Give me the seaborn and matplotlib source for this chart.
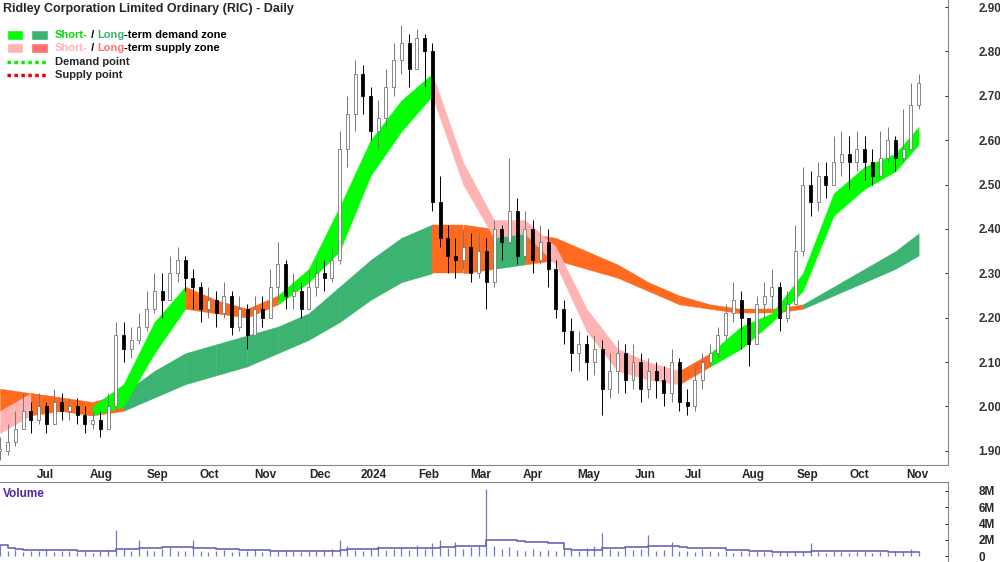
import matplotlib
matplotlib.use("Agg")
import matplotlib.pyplot as plt
from matplotlib.patches import Rectangle
import seaborn as sns
import pandas as pd
import numpy as np

# candles, one every ~3 trading days
closes = [1.90, 1.92, 1.95, 1.99, 1.97, 2.00, 1.96, 2.01, 1.99, 2.00,
          1.98, 1.96, 1.97, 1.95, 2.00, 2.16, 2.13, 2.15, 2.18, 2.22,
          2.26, 2.24, 2.30, 2.33, 2.29, 2.27, 2.22, 2.24, 2.21, 2.25,
          2.18, 2.22, 2.16, 2.22, 2.20, 2.27, 2.32, 2.25, 2.26, 2.22,
          2.27, 2.30, 2.29, 2.33, 2.58, 2.66, 2.75, 2.70, 2.62, 2.65,
          2.72, 2.78, 2.82, 2.76, 2.83, 2.80, 2.46, 2.38, 2.34, 2.33,
          2.36, 2.30, 2.35, 2.28, 2.40, 2.37, 2.44, 2.34, 2.40, 2.33,
          2.37, 2.31, 2.22, 2.17, 2.12, 2.14, 2.10, 2.13, 2.04, 2.08,
          2.12, 2.06, 2.10, 2.04, 2.08, 2.06, 2.03, 2.10, 2.01, 2.00,
          2.06, 2.10, 2.12, 2.16, 2.21, 2.24, 2.20, 2.14, 2.23, 2.25,
          2.27, 2.20, 2.23, 2.35, 2.50, 2.46, 2.52, 2.50, 2.55, 2.57,
          2.55, 2.58, 2.55, 2.52, 2.56, 2.60, 2.56, 2.58, 2.68, 2.73]
highs = [1.93, 1.96, 1.99, 2.03, 2.01, 2.03, 2.01, 2.04, 2.03, 2.02,
         2.02, 2.00, 1.99, 1.99, 2.03, 2.19, 2.19, 2.18, 2.21, 2.26,
         2.30, 2.30, 2.34, 2.36, 2.34, 2.31, 2.28, 2.27, 2.26, 2.28,
         2.26, 2.25, 2.23, 2.25, 2.25, 2.31, 2.37, 2.33, 2.30, 2.28,
         2.31, 2.33, 2.33, 2.36, 2.62, 2.70, 2.78, 2.77, 2.72, 2.69,
         2.76, 2.82, 2.86, 2.84, 2.85, 2.84, 2.82, 2.52, 2.41, 2.38,
         2.40, 2.39, 2.39, 2.38, 2.42, 2.41, 2.56, 2.47, 2.44, 2.42,
         2.41, 2.40, 2.33, 2.24, 2.20, 2.17, 2.16, 2.16, 2.15, 2.12,
         2.15, 2.14, 2.14, 2.12, 2.11, 2.10, 2.09, 2.13, 2.11, 2.04,
         2.09, 2.12, 2.14, 2.18, 2.23, 2.28, 2.26, 2.19, 2.25, 2.28,
         2.31, 2.28, 2.26, 2.41, 2.54, 2.53, 2.55, 2.55, 2.61, 2.62,
         2.61, 2.62, 2.61, 2.58, 2.62, 2.63, 2.61, 2.67, 2.73, 2.75]
lows = [1.88, 1.89, 1.91, 1.95, 1.94, 1.96, 1.94, 1.96, 1.97, 1.97,
        1.96, 1.94, 1.95, 1.93, 1.96, 1.99, 2.10, 2.11, 2.14, 2.17,
        2.21, 2.20, 2.24, 2.28, 2.26, 2.22, 2.19, 2.20, 2.18, 2.20,
        2.16, 2.17, 2.13, 2.16, 2.18, 2.21, 2.24, 2.22, 2.22, 2.20,
        2.23, 2.25, 2.26, 2.28, 2.32, 2.54, 2.62, 2.66, 2.60, 2.58,
        2.63, 2.70, 2.75, 2.72, 2.76, 2.72, 2.44, 2.36, 2.30, 2.29,
        2.31, 2.28, 2.29, 2.22, 2.27, 2.33, 2.38, 2.32, 2.33, 2.30,
        2.32, 2.27, 2.20, 2.14, 2.08, 2.08, 2.06, 2.07, 1.98, 2.02,
        2.03, 2.03, 2.04, 2.01, 2.02, 2.02, 2.00, 2.01, 1.99, 1.98,
        1.99, 2.04, 2.09, 2.11, 2.15, 2.19, 2.13, 2.09, 2.17, 2.20,
        2.22, 2.17, 2.19, 2.23, 2.34, 2.43, 2.44, 2.47, 2.50, 2.52,
        2.49, 2.53, 2.51, 2.50, 2.53, 2.55, 2.53, 2.55, 2.65, 2.67]
volumes = [1.4, 0.6, 0.8, 0.5, 0.7, 0.6, 0.9, 0.5, 0.6, 0.7,
           0.5, 0.6, 0.4, 0.7, 0.8, 3.2, 0.9, 0.7, 2.0, 0.8,
           0.6, 0.9, 1.1, 0.7, 0.6, 2.0, 0.7, 0.5, 0.6, 0.8,
           0.5, 0.7, 0.6, 0.9, 0.5, 0.6, 0.7, 0.8, 0.6, 0.5,
           0.7, 0.6, 0.8, 0.9, 2.0, 1.2, 0.8, 0.7, 0.9, 1.3,
           0.8, 0.9, 1.1, 0.8, 1.4, 0.9, 1.6, 2.0, 1.0, 1.8,
           0.9, 1.1, 1.3, 8.3, 1.2, 0.9, 1.1, 0.8, 0.7, 0.9,
           0.6, 0.8, 0.7, 0.9, 0.8, 0.6, 1.0, 1.2, 2.9, 0.9,
           0.7, 1.1, 0.8, 0.9, 2.6, 0.7, 0.8, 1.8, 0.6, 0.7,
           0.5, 0.9, 0.6, 0.5, 0.7, 0.4, 0.6, 0.5, 0.7, 0.5,
           0.4, 0.6, 0.5, 0.7, 0.6, 1.6, 0.5, 0.4, 0.6, 0.5,
           0.4, 0.5, 0.6, 0.4, 0.5, 0.4, 0.6, 0.5, 0.9, 0.7]

# zone bands, one anchor every 4 candles (last at the final candle)
short_upper = [1.99, 2.03, 2.02, 2.00, 2.05, 2.19, 2.27, 2.24, 2.22, 2.25,
               2.31, 2.45, 2.60, 2.69, 2.75, 2.55, 2.42, 2.42, 2.36, 2.22,
               2.13, 2.10, 2.08, 2.12, 2.18, 2.21, 2.30, 2.48, 2.54, 2.57, 2.63]
short_lower = [1.94, 1.98, 1.99, 1.98, 2.00, 2.12, 2.22, 2.21, 2.20, 2.23,
               2.28, 2.35, 2.52, 2.62, 2.70, 2.50, 2.38, 2.39, 2.32, 2.17,
               2.08, 2.06, 2.05, 2.09, 2.13, 2.19, 2.26, 2.43, 2.49, 2.53, 2.59]
long_upper = [2.04, 2.03, 2.02, 2.01, 2.03, 2.08, 2.12, 2.14, 2.16, 2.18,
              2.21, 2.27, 2.33, 2.38, 2.41, 2.41, 2.40, 2.39, 2.38, 2.35,
              2.32, 2.28, 2.25, 2.23, 2.22, 2.22, 2.23, 2.27, 2.31, 2.35, 2.39]
long_lower = [1.99, 1.99, 1.99, 1.98, 1.99, 2.02, 2.05, 2.07, 2.09, 2.12,
              2.15, 2.19, 2.24, 2.28, 2.30, 2.30, 2.31, 2.32, 2.33, 2.31,
              2.29, 2.26, 2.23, 2.22, 2.21, 2.21, 2.22, 2.25, 2.28, 2.31, 2.34]
# state per segment: D = short demand, S = short supply, O = orange supply, L = long demand
short_state = "SOODDDOOODDDDDSSSSSSSSODDDDDDD"
long_state = "OOOOLLLLLLLLLLOOLOOOOOOOOOLLLL"

month_labels = ["Jul", "Aug", "Sep", "Oct", "Nov", "Dec", "2024", "Feb", "Mar",
                "Apr", "May", "Jun", "Jul", "Aug", "Sep", "Oct", "Nov"]

colors = {"D": "#00ff00", "L": "#3cb371", "S": "#ffb3b3", "O": "#ff6a1f"}

sns.set_style("white")
plt.rcParams["font.family"] = ["Liberation Sans", "DejaVu Sans"]

fig = plt.figure(figsize=(10, 5.62), dpi=100)
ax = fig.add_axes([0, 1 - 465 / 562, 0.948, 465 / 562])
axv = fig.add_axes([0, 0, 0.948, 80 / 562])

step = 3.1
xs = np.arange(len(closes)) * step
opens = [closes[0]] + closes[:-1]
band_idx = list(range(0, len(closes) - 3, 4)) + [len(closes) - 1]
bx = xs[band_idx]

for up, lo, state in [(long_upper, long_lower, long_state),
                      (short_upper, short_lower, short_state)]:
    for k, st in enumerate(state):
        ax.fill_between(bx[k:k + 2], lo[k:k + 2], up[k:k + 2],
                        color=colors[st], lw=0.3, ec=colors[st], zorder=1)

for x, o, h, l, c in zip(xs, opens, highs, lows, closes):
    h = max(h, o, c)
    l = min(l, o, c)
    up_bar = c >= o
    edge = "#777777" if up_bar else "black"
    ax.vlines(x, l, h, color=edge, lw=0.7, zorder=2)
    bottom = min(o, c)
    height = max(abs(c - o), 0.003)
    ax.add_patch(Rectangle((x - 0.6, bottom), 1.2, height,
                           fc="white" if up_bar else "black",
                           ec=edge, lw=0.6, zorder=3))

ax.set_ylim(1.868, 2.916)
ax.set_xlim(0, 380.7)
ax.yaxis.tick_right()
ax.set_yticks(np.arange(1.9, 2.91, 0.1))
ax.set_yticklabels([f"{v:.2f}" for v in np.arange(1.9, 2.91, 0.1)],
                   fontsize=8.5, fontweight="bold")
ax.tick_params(axis="y", pad=22, length=2, direction="in", colors="#333333")

days = pd.bdate_range("2023-06-12", "2024-11-30")
firsts = pd.Series(range(len(days)), index=days).groupby(
    [days.year, days.month]).first().values[1:len(month_labels) + 1]
ax.set_xticks(firsts)
ax.set_xticklabels(month_labels, fontsize=8.5, fontweight="bold", ha="left")
ax.tick_params(axis="x", length=4, direction="in", pad=3)
for s in ["top", "left"]:
    ax.spines[s].set_visible(False)
ax.spines["right"].set_color("#888888")
ax.spines["bottom"].set_color("#888888")

# title and legend
ax.text(0.003, 0.993, "Ridley Corporation Limited Ordinary (RIC) - Daily",
        transform=ax.transAxes, fontsize=9, fontweight="bold", va="top")
fx = lambda px: px / 948
fy = lambda py: 1 - py / 465
for row, (c1, c2) in enumerate([("#00ff00", "#3cb371"), ("#ffb3b3", "#ff7070")]):
    y0 = fy(40 + row * 13)
    ax.add_patch(Rectangle((fx(7), y0), fx(16), 10 / 465, fc=c1,
                           transform=ax.transAxes, zorder=5))
    ax.add_patch(Rectangle((fx(31), y0), fx(17), 10 / 465, fc=c2,
                           transform=ax.transAxes, zorder=5))


def chain(parts, y):
    prev = None
    for s, col in parts:
        kw = dict(fontsize=8, fontweight="bold", color=col, va="center", ha="left")
        if prev is None:
            prev = ax.text(fx(55), fy(y), s, transform=ax.transAxes, **kw)
        else:
            prev = ax.annotate(s, xy=(1, 0.5), xycoords=prev, **kw)


chain([("Short-", "#00dd00"), (" / ", "black"), ("Long", "#3cb371"),
       ("-term demand zone", "black")], 35)
chain([("Short-", "#ffb3b3"), (" / ", "black"), ("Long", "#ff7070"),
       ("-term supply zone", "black")], 48)
ax.plot([fx(7), fx(48)], [fy(62)] * 2, ls=(0, (1, 1)), lw=2.5, color="#00ee00", transform=ax.transAxes)
ax.plot([fx(7), fx(48)], [fy(75)] * 2, ls=(0, (1, 1)), lw=2.5, color="#ee0000", transform=ax.transAxes)
ax.text(fx(55), fy(62), "Demand point", fontsize=8, fontweight="bold", va="center", transform=ax.transAxes)
ax.text(fx(55), fy(75), "Supply point", fontsize=8, fontweight="bold", va="center", transform=ax.transAxes)

# volume panel
vol = pd.DataFrame({"x": xs, "v": volumes})
vol["ma"] = vol["v"].rolling(10, min_periods=1).mean()
axv.vlines(vol["x"], 0, vol["v"], color="#7777cc", lw=0.9)
sns.lineplot(data=vol, x="x", y="ma", ax=axv, color="#6666bb", lw=1.2, drawstyle="steps-post")
axv.set_xlim(0, 380.7)
axv.set_ylim(-0.7, 9.1)
axv.set_xticks([])
axv.set_xlabel("")
axv.set_ylabel("")
axv.yaxis.tick_right()
axv.set_yticks([0, 2, 4, 6, 8])
axv.set_yticklabels(["0", "2M", "4M", "6M", "8M"], fontsize=8.5, fontweight="bold")
axv.tick_params(axis="y", pad=22, length=2, direction="in")
for s in ["left", "bottom"]:
    axv.spines[s].set_visible(False)
axv.spines["right"].set_color("#888888")
axv.spines["top"].set_color("#888888")
axv.text(0.003, 0.93, "Volume", transform=axv.transAxes, color="#5522aa",
         fontsize=8.5, fontweight="bold", va="top")

fig.savefig("out.png", dpi=100)
